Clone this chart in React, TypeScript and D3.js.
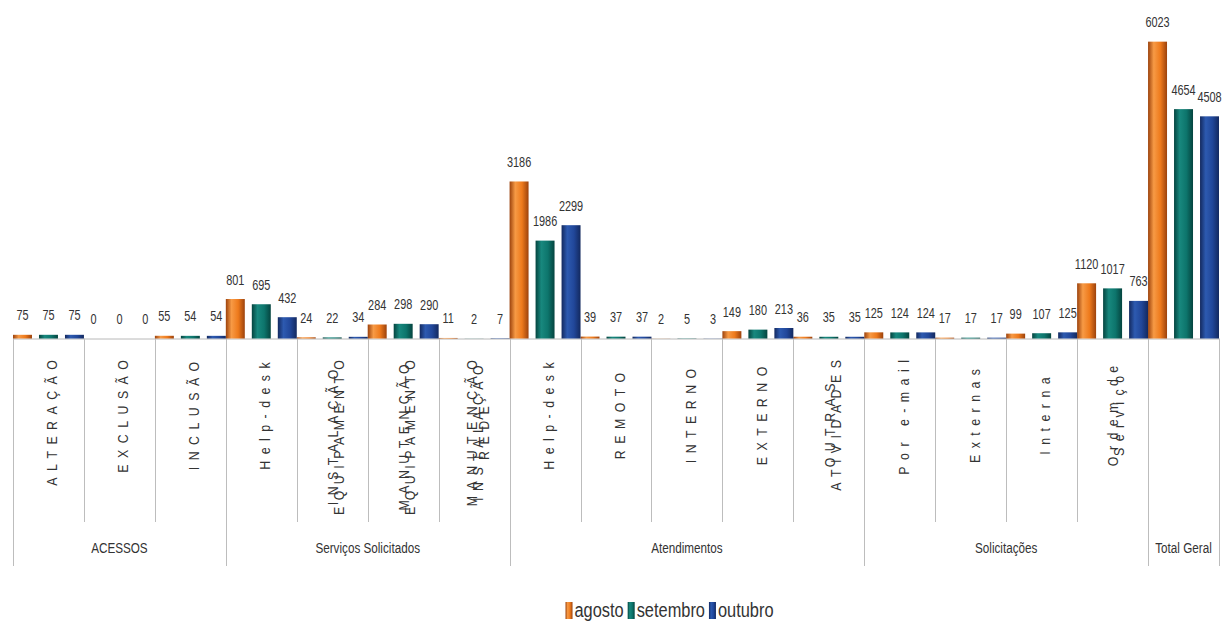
import React, { useEffect, useRef } from "react";
import * as d3 from "d3";

const seriesNames = ["agosto", "setembro", "outubro"];
const subcategories: string[][] = [
  ["ALTERAÇÃO"],
  ["EXCLUSÃO"],
  ["INCLUSÃO"],
  ["Help-desk"],
  ["INSTALAÇÃO", "EQUIPAMENTO"],
  ["MANUTENÇÃO", "EQUIPAMENTO"],
  ["MANUTENÇÃO", "INSTALAÇÃO", "REDE"],
  ["Help-desk"],
  ["REMOTO"],
  ["INTERNO"],
  ["EXTERNO"],
  ["OUTRAS", "ATIVIDADES"],
  ["Por e-mail"],
  ["Externas"],
  ["Interna"],
  ["Ordem de", "Serviço"],
  [],
];
const groupNames = ["ACESSOS", "Serviços Solicitados", "Atendimentos", "Solicitações", "Total Geral"];
const groupSizes = [3, 4, 5, 4, 1];

const agosto = [75, 0, 55, 801, 24, 284, 11, 3186, 39, 2, 149, 36, 125, 17, 99, 1120, 6023];
const setembro = [75, 0, 54, 695, 22, 298, 2, 1986, 37, 5, 180, 35, 124, 17, 107, 1017, 4654];
const outubro = [75, 0, 54, 432, 34, 290, 7, 2299, 37, 3, 213, 35, 124, 17, 125, 763, 4508];
const seriesValues = [agosto, setembro, outubro];

const colors = [
  { dark: "#9c420c", mid: "#ee7a1c", light: "#f79a45" },
  { dark: "#05443f", mid: "#0d756c", light: "#18887e" },
  { dark: "#13295f", mid: "#21479a", light: "#2d5ab0" },
];

const W = 1226;
const H = 629;
const FONT = "'Liberation Sans', Arial, sans-serif";
const SX = 0.78; // horizontal condensing to mimic a narrow font
const SXL = 0.85; // condensing for rotated labels

export default function App() {
  const ref = useRef<SVGSVGElement | null>(null);

  useEffect(() => {
    const svg = d3.select(ref.current);
    svg.selectAll("*").remove();

    const x = d3
      .scaleBand<number>()
      .domain(d3.range(subcategories.length))
      .range([13, 1219])
      .paddingInner(0)
      .paddingOuter(0);
    const xs = d3
      .scaleBand<number>()
      .domain(d3.range(seriesNames.length))
      .range([0, x.bandwidth()])
      .paddingInner(0.27)
      .paddingOuter(0);
    const y = d3.scaleLinear().domain([0, 7000]).range([338.5, -6.5]);
    const base = y(0);

    const defs = svg.append("defs");
    colors.forEach((c, i) => {
      const g = defs
        .append("linearGradient")
        .attr("id", `grad${i}`)
        .attr("x1", "0%")
        .attr("x2", "100%")
        .attr("y1", "0%")
        .attr("y2", "0%");
      g.append("stop").attr("offset", "0%").attr("stop-color", c.dark);
      g.append("stop").attr("offset", "30%").attr("stop-color", c.light);
      g.append("stop").attr("offset", "65%").attr("stop-color", c.mid);
      g.append("stop").attr("offset", "100%").attr("stop-color", c.dark);
    });

    // baseline
    svg
      .append("line")
      .attr("x1", x(0)!)
      .attr("x2", x(subcategories.length - 1)! + x.bandwidth())
      .attr("y1", base + 0.5)
      .attr("y2", base + 0.5)
      .attr("stroke", "#b8b8b8")
      .attr("stroke-width", 1);

    // separators
    const groupEdges = new Set<number>();
    let acc = 0;
    groupEdges.add(0);
    groupSizes.forEach((s) => {
      acc += s;
      groupEdges.add(acc);
    });
    for (let i = 0; i <= subcategories.length; i++) {
      const xx = i < subcategories.length ? x(i)! : x(subcategories.length - 1)! + x.bandwidth();
      svg
        .append("line")
        .attr("x1", Math.round(xx) + 0.5)
        .attr("x2", Math.round(xx) + 0.5)
        .attr("y1", base)
        .attr("y2", groupEdges.has(i) ? 566 : 522)
        .attr("stroke", "#bdbdbd")
        .attr("stroke-width", 1);
    }

    // bars
    seriesValues.forEach((vals, si) => {
      const g = svg.append("g");
      g.selectAll("rect")
        .data(vals)
        .join("rect")
        .attr("x", (_, i) => x(i)! + xs(si)!)
        .attr("width", xs.bandwidth())
        .attr("y", (v) => y(v))
        .attr("height", (v) => base - y(v))
        .attr("fill", `url(#grad${si})`);
      g.selectAll("text")
        .data(vals)
        .join("text")
        .attr(
          "transform",
          (v, i) => `translate(${x(i)! + xs(si)! + xs.bandwidth() / 2},${y(v) - 14.5}) scale(${SX},1)`
        )
        .attr("text-anchor", "middle")
        .attr("font-family", FONT)
        .attr("font-size", 14)
        .attr("fill", "#333")
        .text((v) => String(v));
    });

    // subcategory labels (rotated, letter-spaced)
    const spacingVisual = 6.5;
    const sLocal = spacingVisual / SXL;
    subcategories.forEach((lines, i) => {
      if (!lines.length) return;
      const cx = x(i)! + x.bandwidth() / 2 + 4;
      const g = svg.append("g");
      const items = lines.map((ln) => {
        const t = g
          .append("text")
          .attr("dominant-baseline", "central")
          .attr("font-family", FONT)
          .attr("font-size", 14.5)
          .attr("fill", "#333")
          .text(ln);
        const plain = (t.node() as SVGTextElement).getComputedTextLength();
        const n = Array.from(ln).length;
        const localLen = plain + sLocal * (n - 1);
        t.attr("letter-spacing", sLocal).attr("x", -localLen / 2);
        return { t, vis: localLen * SXL };
      });
      const maxLen = d3.max(items, (d) => d.vis) || 0;
      const cy = Math.max(416, 360 + maxLen / 2);
      items.forEach(({ t }, li) => {
        const dx = (li - (lines.length - 1) / 2) * 6;
        t.attr("transform", `translate(${cx + dx},${cy}) rotate(-90) scale(${SXL},1)`);
      });
    });

    // group labels
    let start = 0;
    groupNames.forEach((name, gi) => {
      const s = groupSizes[gi];
      const x0 = x(start)!;
      const x1 = x(start + s - 1)! + x.bandwidth();
      svg
        .append("text")
        .attr("transform", `translate(${(x0 + x1) / 2},548) scale(${SX},1)`)
        .attr("text-anchor", "middle")
        .attr("dominant-baseline", "central")
        .attr("font-family", FONT)
        .attr("font-size", 15)
        .attr("fill", "#333")
        .text(name);
      start += s;
    });

    // legend
    const leg = svg.append("g");
    let lx = 0;
    seriesNames.forEach((name, si) => {
      leg
        .append("rect")
        .attr("x", lx)
        .attr("y", -8)
        .attr("width", 7)
        .attr("height", 17)
        .attr("fill", `url(#grad${si})`);
      const t = leg
        .append("text")
        .attr("dominant-baseline", "central")
        .attr("font-family", FONT)
        .attr("font-size", 21)
        .attr("fill", "#333")
        .text(name);
      t.attr("transform", `translate(${lx + 9},0) scale(${SX},1)`);
      lx += 9 + (t.node() as SVGTextElement).getComputedTextLength() * SX + 4;
    });
    leg.attr("transform", `translate(${671.5 - lx / 2},610)`);
  }, []);

  return (
    <svg
      ref={ref}
      width={W}
      height={H}
      style={{ position: "absolute", left: 0, top: 0, display: "block", background: "#fff" }}
    />
  );
}
